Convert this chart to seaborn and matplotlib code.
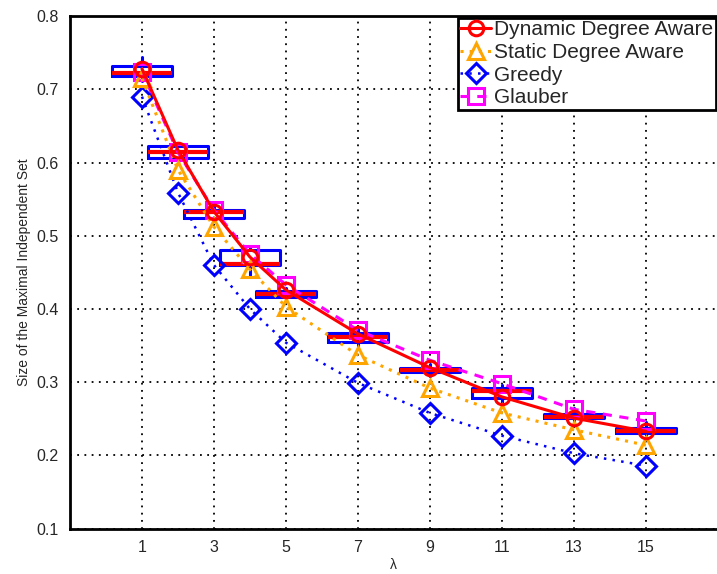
import matplotlib
matplotlib.use("Agg")
import matplotlib.pyplot as plt
import seaborn as sns

# lambda values
lam = [1, 2, 3, 4, 5, 7, 9, 11, 13, 15]

dynamic = [0.728, 0.617, 0.533, 0.471, 0.426, 0.366, 0.320, 0.280, 0.251, 0.233]
static = [0.715, 0.590, 0.512, 0.454, 0.403, 0.337, 0.292, 0.258, 0.235, 0.214]
greedy = [0.690, 0.559, 0.460, 0.400, 0.354, 0.299, 0.258, 0.227, 0.203, 0.186]
glauber = [0.724, 0.614, 0.535, 0.475, 0.433, 0.371, 0.330, 0.298, 0.263, 0.247]

# box statistics
box_q1 = [0.718, 0.606, 0.524, 0.460, 0.417, 0.355, 0.314, 0.278, 0.251, 0.230]
box_med = [0.722, 0.615, 0.533, 0.461, 0.420, 0.362, 0.317, 0.288, 0.253, 0.234]
box_q3 = [0.732, 0.622, 0.535, 0.480, 0.425, 0.367, 0.320, 0.292, 0.256, 0.237]
box_lo = [0.712, 0.600, 0.520, 0.447, 0.413, 0.349, 0.309, 0.273, 0.247, 0.228]
box_hi = [0.744, 0.625, 0.540, 0.483, 0.428, 0.372, 0.325, 0.296, 0.265, 0.245]

xticks = [1, 3, 5, 7, 9, 11, 13, 15]
yticks = [0.1, 0.2, 0.3, 0.4, 0.5, 0.6, 0.7, 0.8]

sns.set_style("white")
plt.rcParams['font.family'] = ['Liberation Sans', 'DejaVu Sans']

fig = plt.figure(figsize=(7.17, 5.74), dpi=100)
ax = fig.add_axes([0.0976, 0.079, 0.9035, 0.893])

stats = []
for i in range(len(lam)):
    stats.append(dict(q1=box_q1[i], med=box_med[i], q3=box_q3[i],
                      whislo=box_lo[i], whishi=box_hi[i], fliers=[]))
ax.bxp(stats, positions=lam, widths=1.65, showfliers=False, manage_ticks=False,
       boxprops=dict(color='blue', linewidth=2.2),
       medianprops=dict(color='red', linewidth=3),
       whiskerprops=dict(color='blue', linewidth=2.2),
       capprops=dict(color='blue', linewidth=0))

common = dict(markerfacecolor='none', markeredgewidth=2.2, ax=ax)
sns.lineplot(x=lam, y=glauber, color='magenta', markeredgecolor='magenta',
             linestyle=(0, (3, 2.5)), linewidth=2.2, markersize=11,
             marker='s', label='Glauber', zorder=4, **common)
sns.lineplot(x=lam, y=greedy, color='blue', markeredgecolor='blue',
             linestyle=(0, (1, 2.5)), linewidth=1.8, markersize=10,
             marker='D', label='Greedy', zorder=4, **common)
sns.lineplot(x=lam, y=static, color='orange', markeredgecolor='orange',
             linestyle=(0, (1, 2)), linewidth=2.2, markersize=11,
             marker='^', label='Static Degree Aware', zorder=4, **common)
sns.lineplot(x=lam, y=dynamic, color='red', markeredgecolor='red',
             linestyle='-', linewidth=2.2, markersize=10.5,
             marker='o', label='Dynamic Degree Aware', zorder=5, **common)

ax.set_xlim(-1, 17)
ax.set_ylim(0.1, 0.8)
ax.set_xticks(xticks)
ax.set_yticks(yticks)
ax.set_yticklabels([f"{v:.1f}" for v in yticks])
ax.tick_params(direction='in', labelsize=11.5, length=5, width=1.5, color='black', pad=8)
ax.grid(True, color='black', linestyle=(0, (1, 3)), linewidth=1.3)
for side in ['left', 'bottom', 'top', 'right']:
    ax.spines[side].set_color('black')
    ax.spines[side].set_linewidth(2)

ax.set_xlabel('λ', fontsize=10, labelpad=2)
ax.set_ylabel('Size of the Maximal Independent Set', fontsize=10, labelpad=4)

handles, labels = ax.get_legend_handles_labels()
order = [3, 2, 1, 0]
leg = ax.legend([handles[i] for i in order], [labels[i] for i in order],
                loc='upper right', fontsize=15, frameon=True, fancybox=False,
                framealpha=1, handlelength=1.5, handletextpad=0.15,
                labelspacing=0.18, borderpad=0.1, borderaxespad=0.1)
leg.get_frame().set_edgecolor('black')
leg.get_frame().set_linewidth(2)

fig.savefig('out.png', dpi=100)
